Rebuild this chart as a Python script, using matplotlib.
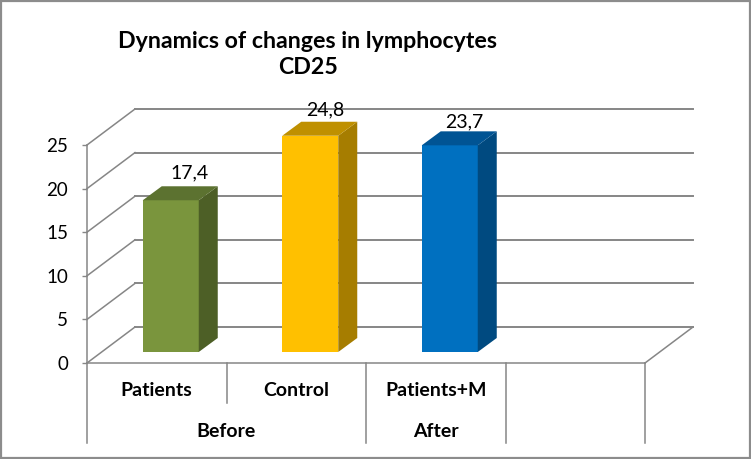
import matplotlib
matplotlib.use("Agg")
import matplotlib.pyplot as plt
from matplotlib.patches import Polygon, Rectangle

# ---------------------------------------------------------------------------
# Data
# ---------------------------------------------------------------------------
categories = ["Patients", "Control", "Patients+M", ""]
groups = ["Before", "After"]
group_spans = [(0, 2), (2, 3)]
values = [17.4, 24.8, 23.7]
value_labels = ["17,4", "24,8", "23,7"]
y_ticks = [0, 5, 10, 15, 20, 25]
title = "Dynamics of changes in lymphocytes\nCD25"

front_colors = ["#7A953D", "#FFC000", "#0070C0"]
side_colors = ["#4D5F26", "#A67D00", "#004A80"]
top_colors = ["#5C7230", "#BF9000", "#005494"]

# value label nudges from the bar's top front centre, in pixels
label_dx = [19, 15, 15]
label_dy = [27, 26, 23]

GRID = "#868686"
W, H = 751, 459
X0, X1, Y0, Y25 = 87, 645, 363, 145   # front plane of the plot, in pixels

plt.rcParams["font.family"] = ["Lato", "DejaVu Sans"]

fig = plt.figure(figsize=(W / 100, H / 100), dpi=100, facecolor="white")
ax = fig.add_axes([X0 / W, 1 - Y0 / H, (X1 - X0) / W, (Y0 - Y25) / H])
ax.set_xlim(0, len(categories))
ax.set_ylim(0, 25)
ax.patch.set_visible(False)

# pixels -> data units
px = len(categories) / (X1 - X0)
py = 25 / (Y0 - Y25)

# outer frame
fig.add_artist(Rectangle((1 / W, 1 / H), (W - 2) / W, (H - 2) / H, transform=fig.transFigure,
                         fill=False, edgecolor="#8C8C8C", linewidth=1.6))

# back wall gridlines + side wall diagonals
DX, DY = 48 * px, 36 * py
for t in y_ticks:
    ax.plot([0, DX], [t, t + DY], color=GRID, lw=1.1, clip_on=False, zorder=1)
    ax.plot([DX, 4 + DX], [t + DY, t + DY], color=GRID, lw=1.4, clip_on=False, zorder=1)
ax.plot([4, 4 + DX], [0, DY], color=GRID, lw=1.1, clip_on=False, zorder=1)

# 3D bars
BAR_W = 56 * px
BX, BY = 14 * px, 11 * py     # bar front sits a bit behind the front plane
SX, SY = 19 * px, 14 * py     # bar depth
for i, v in enumerate(values):
    left = i + 0.5 - BAR_W / 2 + BX
    right = left + BAR_W
    ax.bar(left, v, width=BAR_W, bottom=BY, align="edge", color=front_colors[i],
           clip_on=False, zorder=3, linewidth=0)
    top = BY + v
    ax.add_patch(Polygon([(right, BY), (right + SX, BY + SY), (right + SX, top + SY), (right, top)],
                         closed=True, facecolor=side_colors[i], edgecolor="none",
                         clip_on=False, zorder=3))
    ax.add_patch(Polygon([(left, top), (left + SX, top + SY), (right + SX, top + SY), (right, top)],
                         closed=True, facecolor=top_colors[i], edgecolor="none",
                         clip_on=False, zorder=3))
    ax.text(left + BAR_W / 2 + label_dx[i] * px, top + label_dy[i] * py, value_labels[i],
            ha="center", va="center", fontsize=14, color="black", zorder=5)

# axes
for s in ["top", "right"]:
    ax.spines[s].set_visible(False)
for s in ["left", "bottom"]:
    ax.spines[s].set_color(GRID)
    ax.spines[s].set_linewidth(1.1)
ax.set_xticks([])
ax.set_yticks(y_ticks)
ax.tick_params(axis="y", length=3.6, width=1.0, color=GRID, labelsize=13.5, pad=10)

# multi-level category table under the axis
ROW1, ROW2 = -40 * py, -80 * py
for x, low in [(0, ROW2), (1, ROW1), (2, ROW2), (3, ROW2), (4, ROW2)]:
    ax.plot([x, x], [0, low], color=GRID, lw=1.1, clip_on=False, zorder=1)
for i, c in enumerate(categories):
    ax.text(i + 0.5, -28 * py, c, ha="center", va="center", fontsize=14, fontweight="bold")
for g, (a, b) in zip(groups, group_spans):
    ax.text((a + b) / 2, -68.5 * py, g, ha="center", va="center", fontsize=14, fontweight="bold")

fig.text(308 / W, 1 - 54.5 / H, title, ha="center", va="center", fontsize=16.7,
         fontweight="bold", linespacing=1.25)

fig.savefig("out.png", dpi=100)
